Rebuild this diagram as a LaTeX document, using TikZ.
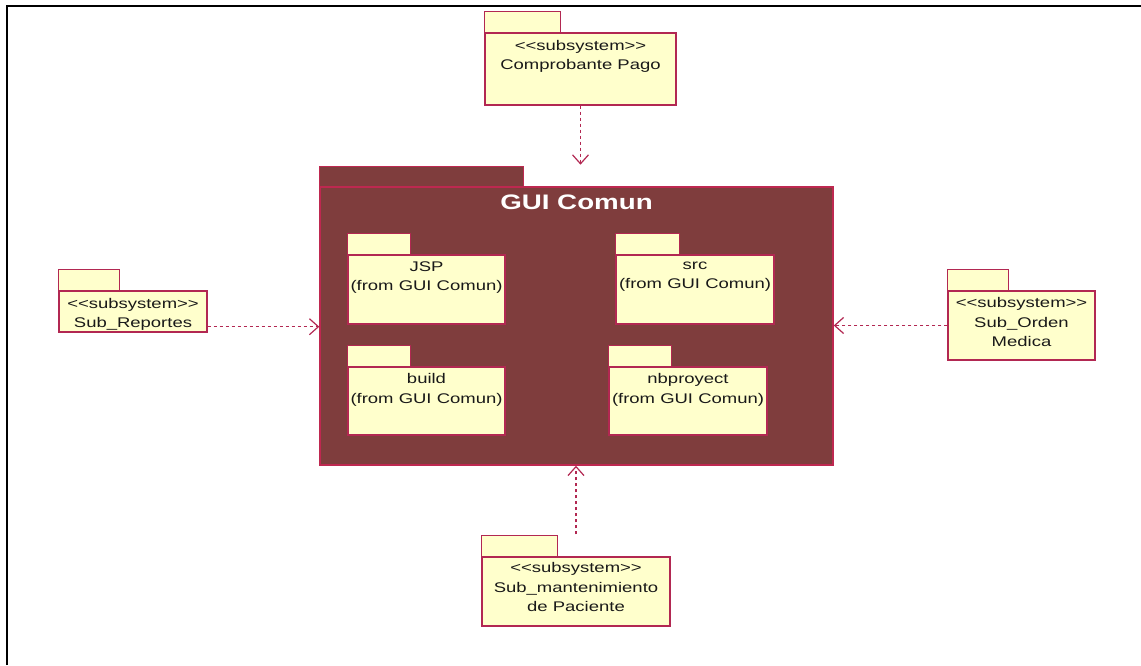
\documentclass[tikz,border=0pt]{standalone}
\usepackage{fontspec}
\setmainfont{Liberation Sans}[FakeStretch=1.32]
\usetikzlibrary{arrows.meta,calc}

\definecolor{pkgline}{RGB}{178,40,82}
\definecolor{pkgfill}{RGB}{255,255,204}
\definecolor{guifill}{RGB}{127,61,61}
\definecolor{guiline}{RGB}{190,40,80}

% stereotype text with the angle brackets kept as separate characters
\newcommand\stereo[1]{<\kern0pt<#1>\kern0pt>}

\tikzset{
  pkgbody/.style={draw=pkgline, fill=pkgfill, line width=1.4pt, inner sep=0pt},
  pkgtab/.style={draw=pkgline, fill=pkgfill, line width=1.4pt},
  guibody/.style={draw=guiline, fill=guifill, line width=1.4pt, inner sep=0pt},
  guitab/.style={draw=guiline, fill=guifill, line width=1.4pt},
  pkgtext/.style={anchor=north, inner sep=0pt, align=center,
    font=\fontsize{14pt}{19.5pt}\selectfont, text=black!90,
    execute at begin node=\strut},
  guititle/.style={anchor=base, inner sep=0pt, text=white,
    font=\fontsize{21pt}{25pt}\selectfont\bfseries},
  dep/.style={draw=pkgline, line width=1.3pt, dash pattern=on 3.5pt off 2.5pt,
    -{Straight Barb[length=9pt,width=16pt,line width=1.2pt]}},
}

\begin{document}
\begin{tikzpicture}[x=1pt,y=1pt]
\useasboundingbox (0,0) rectangle (1141,665);

% frame edges
\draw[line width=2.5pt] (7,0) -- (7,659) -- (1141,659);

% main package with its nested packages
\node[guibody, minimum width=513pt, minimum height=278pt] (gui) at (576.5,339) {};
\draw[guitab] (gui.north west) rectangle ++(204,20);
\node[guititle] (guitxt) at ([yshift=-23pt]gui.north) {GUI Comun};

\node[pkgbody, minimum width=157pt, minimum height=69pt] (jsp) at (426.5,375.5) {};
\draw[pkgtab] (jsp.north west) rectangle ++(63,21);
\node[pkgtext] (jsptxt) at ([yshift=-7pt]jsp.north) {JSP\\(from GUI Comun)};

\node[pkgbody, minimum width=158pt, minimum height=69pt] (src) at (695,375.5) {};
\draw[pkgtab] (src.north west) rectangle ++(64,21);
\node[pkgtext] (srctxt) at ([yshift=-7pt]src.north) {src\\(from GUI Comun)};

\node[pkgbody, minimum width=157pt, minimum height=68pt] (build) at (426.5,264) {};
\draw[pkgtab] (build.north west) rectangle ++(63,21);
\node[pkgtext] (buildtxt) at ([yshift=-7pt]build.north) {build\\(from GUI Comun)};

\node[pkgbody, minimum width=158pt, minimum height=68pt] (nbp) at (688,264) {};
\draw[pkgtab] (nbp.north west) rectangle ++(63,21);
\node[pkgtext] (nbptxt) at ([yshift=-7pt]nbp.north) {nbproyect\\(from GUI Comun)};

% surrounding subsystems
\node[pkgbody, minimum width=191pt, minimum height=72pt] (comp) at (580.5,596) {};
\draw[pkgtab] (comp.north west) rectangle ++(76,21);
\node[pkgtext] (comptxt) at ([yshift=-7.5pt]comp.north) {\stereo{subsystem}\\Comprobante Pago};

\node[pkgbody, minimum width=148pt, minimum height=41pt] (rep) at (133,353.5) {};
\draw[pkgtab] (rep.north west) rectangle ++(61,21);
\node[pkgtext] (reptxt) at ([yshift=-7.5pt]rep.north) {\stereo{subsystem}\\Sub\_Reportes};

\node[pkgbody, minimum width=147pt, minimum height=69pt] (ord) at (1021.5,339.5) {};
\draw[pkgtab] (ord.north west) rectangle ++(61,21);
\node[pkgtext] (ordtxt) at ([yshift=-7pt]ord.north) {\stereo{subsystem}\\Sub\_Orden\\Medica};

\node[pkgbody, minimum width=188pt, minimum height=69pt] (mant) at (576,73.5) {};
\draw[pkgtab] (mant.north west) rectangle ++(76,21);
\node[pkgtext] (manttxt) at ([yshift=-6pt]mant.north) {\stereo{subsystem}\\Sub\_mantenimiento\\de Paciente};

% dependencies on GUI Comun
\coordinate (topend) at ([yshift=-59pt]comp.south);
\draw[dep] (comp.south) -- (topend);

\coordinate (repout) at ([yshift=6pt]rep.south east);
\draw[dep] (repout) -- (repout -| gui.west);

\draw[dep] (ord.west) -- (ord.west -| gui.east);

\coordinate (mantout) at ([yshift=22pt]mant.north);
\draw[dep] (mantout) -- (mantout |- gui.south);
\end{tikzpicture}
\end{document}
